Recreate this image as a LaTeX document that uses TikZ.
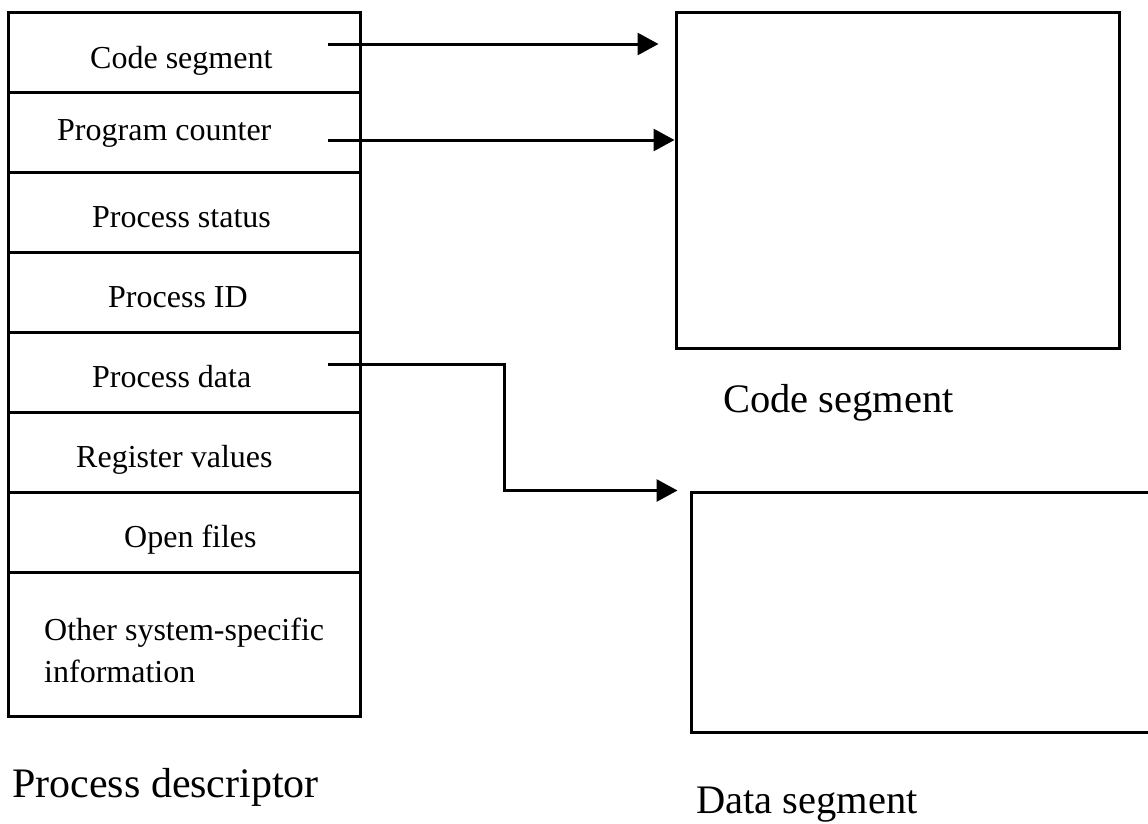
\documentclass[tikz,border=0pt]{standalone}
\usepackage{fontspec}
\setmainfont{Liberation Serif}
\usetikzlibrary{arrows.meta}

\tikzset{
  frame/.style={draw=black, line width=3pt, rectangle, inner sep=0pt},
  cell/.style={frame, minimum width=352pt, minimum height=80pt},
  celltext/.style={anchor=base west, inner sep=0pt, font=\fontsize{32}{42}\selectfont},
  caption/.style={anchor=base west, inner sep=0pt, font=\fontsize{40.5}{48}\selectfont},
  link/.style={line width=3pt, -{Triangle[length=21pt,width=22pt]}},
}

\begin{document}
\begin{tikzpicture}[x=1pt, y=-1pt]
  \useasboundingbox (0,0) rectangle (1148,823);
  \clip (0,0) rectangle (1148,823);

  % process descriptor: stack of fields
  \node[cell] (f1) at (184,52)  {};
  \node[cell] (f2) at (184,132) {};
  \node[cell] (f3) at (184,212) {};
  \node[cell] (f4) at (184,292) {};
  \node[cell] (f5) at (184,372) {};
  \node[cell] (f6) at (184,452) {};
  \node[cell] (f7) at (184,532) {};
  \node[cell, minimum height=144pt] (f8) at (184,644) {};

  \node[celltext] (t1) at (90,68)   {Code segment};
  \node[celltext] (t2) at (57,140)  {Program counter};
  \node[celltext] (t3) at (92,227)  {Process status};
  \node[celltext] (t4) at (108,307) {Process ID};
  \node[celltext] (t5) at (92,387)  {Process data};
  \node[celltext] (t6) at (76,467)  {Register values};
  \node[celltext] (t7) at (124,547) {Open files};
  \node[celltext, align=left] (t8) at (44,682) {Other system-specific\\information};

  % memory segments
  \node[frame, minimum width=443pt, minimum height=336pt] (code) at (897.5,180) {};
  \node[frame, minimum width=479pt, minimum height=240pt] (data) at (930.5,612) {};

  % captions
  \node[caption, font=\fontsize{42}{50}\selectfont] (lpd) at (12,797) {Process descriptor};
  \node[caption] (lcs) at (723,412) {Code segment};
  \node[caption] (lds) at (696,813) {Data segment};

  % pointers out of the descriptor
  \coordinate (p1) at (328,44);
  \coordinate (p2) at (328,140);
  \coordinate (p5) at (328,364);
  \coordinate (bend) at (504,364);

  \draw[link, shorten >=16pt] (p1) -- (p1 -| code.west);
  \draw[link] (p2) -- (p2 -| code.west);
  \draw[link, shorten >=12pt] (p5) -- (bend) |- (data.north west);
\end{tikzpicture}
\end{document}
